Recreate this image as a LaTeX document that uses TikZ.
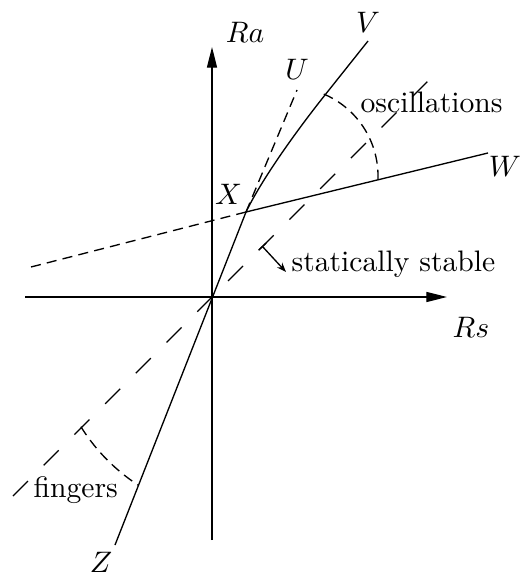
\documentclass[tikz,border=0pt]{standalone}
\usetikzlibrary{arrows.meta}
\begin{document}
\begin{tikzpicture}[x=0.3375pt,y=-0.3375pt,line width=0.45pt,
  shortdash/.style={dash pattern=on 3.4pt off 2.1pt},
  longdash/.style={dash pattern=on 7.16pt off 7.5pt},
  lbl/.style={inner sep=0pt,anchor=base},
  txt/.style={inner sep=0pt,anchor=base west},
  axisarrow/.style={-{Triangle[length=7pt,width=3.4pt]}}]
\useasboundingbox (0,0) rectangle (525,575);
% key points
\coordinate (O) at (212,297);
\coordinate (X) at (246,212);
\coordinate (Zend) at (115,545);
\coordinate (Vmid) at (325,95);
\coordinate (Vend) at (368,41);
\coordinate (Wend) at (488,153);
\coordinate (Uend) at (297,90);
\coordinate (Wleft) at (31,267);
\coordinate (Dlo) at (13,496);
\coordinate (Dhi) at (443,66);
\coordinate (Hl) at (25,297);
\coordinate (Hr) at (447,297);
\coordinate (Vb) at (212,540);
\coordinate (Vt) at (212,47);
\coordinate (Ta) at (262,246);
\coordinate (Tb) at (286,272);
% axes
\draw[axisarrow] (Hl) -- (Hr);
\draw[axisarrow] (Vb) -- (Vt);
% 45 degree long dashed line
\draw[longdash] (Dlo) -- (Dhi);
% solid curve Z - X - V
\draw (Zend) -- (X) .. controls (263.5,176) and (300.1,126.3) .. (Vmid) -- (Vend);
% W line
\draw (X) -- (Wend);
\draw[shortdash] (Wleft) -- (X);
% U line
\draw[shortdash] (X) -- (Uend);
% arcs
\draw[shortdash] plot[domain=-67:4,samples=50] ({289+89*cos(\x)},{176+89*sin(\x)});
\draw[shortdash] plot[domain=148:123,samples=40] ({242+190*cos(\x)},{326+190*sin(\x)});
% stable arrow
\draw[{Bar[width=3.4pt]}-{Stealth[length=3.2pt,width=2.4pt]}] (Ta) -- (Tb);
% labels
\node[lbl] (la) at (245,43) {$Ra$};
\node[lbl] (lu) at (297,80) {$U$};
\node[lbl] (lv) at (368,33) {$V$};
\node[lbl] (lw) at (505,177) {$W$};
\node[lbl] (lx) at (228.5,205) {$X$};
\node[lbl] (lr) at (471,338) {$Rs$};
\node[lbl] (lz) at (101,572) {$Z$};
\node[txt] (osc) at (360,113) {oscillations};
\node[txt] (sta) at (291,271.5) {statically stable};
\node[txt] (fin) at (33,497) {fingers};
\end{tikzpicture}
\end{document}
